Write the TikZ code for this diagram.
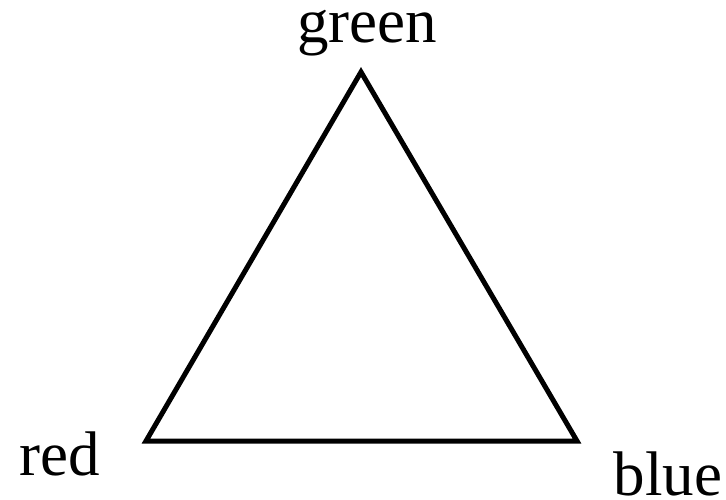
\documentclass[tikz,border=0pt]{standalone}
\usepackage{fontspec}
\setmainfont{Liberation Serif}
\begin{document}
\begin{tikzpicture}[x=1pt,y=-1pt,
  lbl/.style={inner sep=0pt,anchor=base,font=\fontsize{63}{70}\selectfont},
  edge/.style={line width=5pt,line join=miter}]
\useasboundingbox (0,0) rectangle (726,500);
\coordinate (G) at (361,72);
\coordinate (R) at (146,441);
\coordinate (B) at (577,441);
\draw[edge] (G) -- (R) -- (B) -- cycle;
\node[lbl] (lg) at (367,43) {green};
\node[lbl] (lr) at (60,475) {red};
\node[lbl] (lb) at (668,495) {blue};
\end{tikzpicture}
\end{document}
